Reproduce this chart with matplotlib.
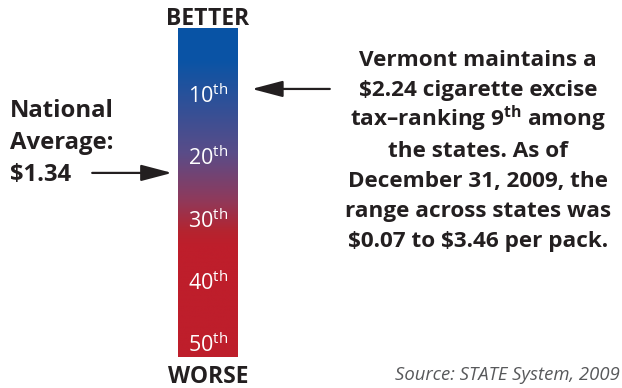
import numpy as np
import matplotlib
matplotlib.use("Agg")
import matplotlib.pyplot as plt
from matplotlib.colors import LinearSegmentedColormap

# ---- data ----
rank_ticks = [10, 20, 30, 40, 50]
rank_labels = ["10", "20", "30", "40", "50"]
vermont_rank = 9
national_rank = 22.5
national_avg = "$1.34"
top_label = "BETTER"
bottom_label = "WORSE"
source = "Source: STATE System, 2009"

plt.rcParams['font.family'] = ['Open Sans', 'DejaVu Sans']
plt.rcParams['mathtext.fontset'] = 'custom'
plt.rcParams['mathtext.rm'] = 'Open Sans'
plt.rcParams['mathtext.bf'] = 'Open Sans:bold'

W, H = 622, 388
fig = plt.figure(figsize=(W / 100, H / 100), dpi=100)
fig.patch.set_facecolor('white')
DARK = '#231f20'

# bar axes in pixel coords: x 178-238, y 28-357
x0, x1, y0, y1 = 178, 238, 28, 357
ax = fig.add_axes([x0 / W, 1 - y1 / H, (x1 - x0) / W, (y1 - y0) / H])
ymin, ymax = -0.8, 52.1
ax.set_xlim(0, 1)
ax.set_ylim(ymax, ymin)
ax.axis('off')

cmap = LinearSegmentedColormap.from_list(
    'br', [(0.0, '#0853a6'), (0.10, '#0b54a5'), (0.38, '#5a4c88'),
           (0.52, '#8e3a5c'), (0.62, '#b5242f'), (0.66, '#be1e2b'), (1.0, '#be1e2b')])
grad = np.linspace(0, 1, 512).reshape(-1, 1)
ax.imshow(grad, aspect='auto', cmap=cmap, extent=(0, 1, ymax, ymin), origin='upper')

for r, lab in zip(rank_ticks, rank_labels):
    ax.text(0.5, r + 1.3, lab + r"$^{\mathrm{th}}$", color='white', fontsize=15.5,
            ha='center', va='baseline')

fig.text(208 / W, 1 - 25 / H, top_label, ha='center', va='baseline',
         fontsize=16.5, fontweight='bold', color=DARK)
fig.text(208 / W, 1 - 383 / H, bottom_label, ha='center', va='baseline',
         fontsize=16.5, fontweight='bold', color=DARK)

# arrows
aprops = dict(arrowstyle='-|>,head_length=1.9,head_width=0.5',
              color=DARK, lw=1.6, shrinkA=0, shrinkB=0)
ax.annotate('', xy=(1.23, vermont_rank), xytext=(2.53, vermont_rank),
            arrowprops=aprops, annotation_clip=False)
ax.annotate('', xy=(-0.1, national_rank), xytext=(-1.43, national_rank),
            arrowprops=aprops, annotation_clip=False)

# left text
for txt, yb in zip(["National", "Average:", national_avg.replace('$', r'\$')], [117, 149, 181]):
    fig.text(10 / W, 1 - yb / H, txt, fontsize=17.2, fontweight='bold',
             color=DARK, ha='left', va='baseline')

para = ["Vermont maintains a",
        r"\$2.24 cigarette excise",
        r"tax–ranking 9$^{\mathbf{th}}$ among",
        "the states. As of",
        "December 31, 2009, the",
        "range across states was",
        r"\$0.07 to \$3.46 per pack."]
for i, line in enumerate(para):
    fig.text(478 / W, 1 - (66 + i * 30.2) / H, line, fontsize=16.2, fontweight='bold',
             color=DARK, ha='center', va='baseline')

fig.text(620 / W, 1 - 380 / H, source, fontsize=13.3, style='italic',
         color='#58595b', ha='right', va='baseline')

fig.savefig('out.png', dpi=100, facecolor='white')
